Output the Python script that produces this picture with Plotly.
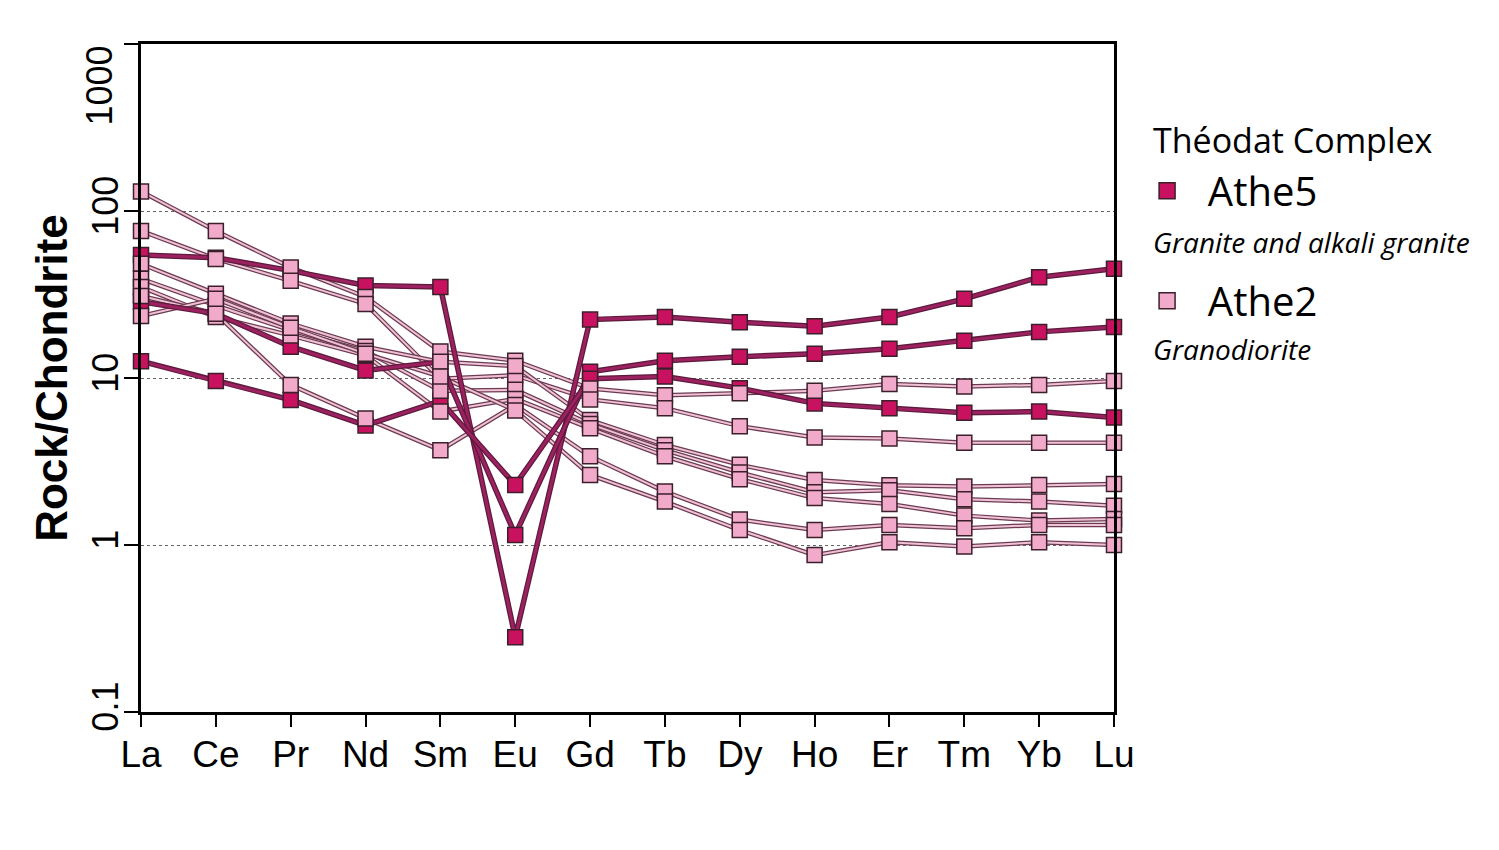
import plotly.graph_objects as go

# REE normalised to chondrite, Théodat Complex
elements = ["La", "Ce", "Pr", "Nd", "Sm", "Eu", "Gd", "Tb", "Dy", "Ho", "Er", "Tm", "Yb", "Lu"]

# Athe5 - granite and alkali granite
athe5_a = [54.6, 52.5, 44.0, 35.8, 35.1, 0.28, 22.4, 23.2, 21.6, 20.4, 23.2, 29.8, 40.2, 45.1]
athe5_b = [28.6, 24.3, 15.4, 11.1, 12.5, 1.15, 10.9, 12.7, 13.4, 14.0, 15.0, 16.7, 18.9, 20.2]
athe5_c = [12.6, 9.6, 7.4, 5.2, 7.3, 2.29, 9.9, 10.2, 8.7, 7.05, 6.6, 6.2, 6.3, 5.8]

# Athe2 - granodiorite
athe2_a = [131, 76, 46, 30.6, 14.4, 12.7, 8.65, 7.9, 8.1, 8.4, 9.2, 8.9, 9.1, 9.6]
athe2_b = [76, 51.7, 38.2, 27.8, 9.9, 10.4, 7.45, 6.6, 5.15, 4.4, 4.35, 4.1, 4.1, 4.1]
athe2_c = [48.3, 32, 21.2, 15.4, 12.5, 11.8, 5.6, 3.97, 3.02, 2.45, 2.28, 2.24, 2.29, 2.32]
athe2_d = [39.3, 27.2, 19.3, 14.5, 8.4, 8.5, 5.3, 3.7, 2.72, 2.07, 2.13, 1.88, 1.82, 1.72]
athe2_e = [35.1, 23.2, 18.0, 13.7, 6.3, 7.5, 5.0, 3.4, 2.48, 1.91, 1.76, 1.50, 1.40, 1.43]
athe2_f = [31.0, 24.3, 9.1, 5.73, 3.7, 6.9, 3.4, 2.09, 1.42, 1.23, 1.32, 1.26, 1.32, 1.32]
athe2_g = [23.5, 29.8, 20.0, 14.0, 10.2, 6.4, 2.63, 1.82, 1.23, 0.87, 1.04, 0.98, 1.04, 1.0]

athe5 = [athe5_a, athe5_b, athe5_c]
athe2 = [athe2_a, athe2_b, athe2_c, athe2_d, athe2_e, athe2_f, athe2_g]

y_ticks = [0.1, 1, 10, 100, 1000]
# top label is drawn separately (it hangs below its tick in the original)
y_ticklabels = ["0.1", "1", "10", "100", ""]

DARK_FILL = "#c8125f"
PINK_FILL = "#f2aacb"
EDGE = "#3b1f2b"
NBSP = "\u00a0"

fig = go.Figure()

# lines: dark edge underneath, coloured core on top
for s in athe2:
    fig.add_trace(go.Scatter(x=elements, y=s, mode="lines", line=dict(color="#6e3a52", width=4.5),
                             showlegend=False, hoverinfo="skip", cliponaxis=False))
    fig.add_trace(go.Scatter(x=elements, y=s, mode="lines", line=dict(color="#eec3d5", width=2),
                             showlegend=False, hoverinfo="skip", cliponaxis=False))
for s in athe5:
    fig.add_trace(go.Scatter(x=elements, y=s, mode="lines", line=dict(color="#5e1a3c", width=5.5),
                             showlegend=False, hoverinfo="skip", cliponaxis=False))
    fig.add_trace(go.Scatter(x=elements, y=s, mode="lines", line=dict(color="#9c2160", width=3),
                             showlegend=False, hoverinfo="skip", cliponaxis=False))

# markers
for s in athe5:
    fig.add_trace(go.Scatter(x=elements, y=s, mode="markers", showlegend=False, cliponaxis=False,
                             marker=dict(symbol="square", size=15, color=DARK_FILL,
                                         line=dict(color=EDGE, width=1.5))))
for s in athe2:
    fig.add_trace(go.Scatter(x=elements, y=s, mode="markers", showlegend=False, cliponaxis=False,
                             marker=dict(symbol="square", size=15, color=PINK_FILL,
                                         line=dict(color=EDGE, width=1.5))))

# legend entries
fig.add_trace(go.Scatter(x=[None], y=[None], mode="markers", name=NBSP * 2 + "Athe5", legendgroup="athe5",
                         marker=dict(symbol="square", size=17, color=DARK_FILL, line=dict(color=EDGE, width=1.5))))
fig.add_trace(go.Scatter(x=[None], y=[None], mode="markers", name=NBSP * 2 + "Athe2", legendgroup="athe2",
                         marker=dict(symbol="square", size=17, color=PINK_FILL, line=dict(color=EDGE, width=1.5))))

fig.update_xaxes(
    type="category", range=[0, 13], showline=True, mirror=True, linecolor="black", linewidth=3,
    ticks="outside", ticklen=12, tickwidth=2, tickcolor="black", showgrid=False, automargin=False,
    ticklabelstandoff=-4,
    tickfont=dict(family="Liberation Sans, Arial", size=37, color="black"),
)
fig.update_yaxes(
    type="log", range=[-1, 3.0005], showline=True, mirror=True, linecolor="black", linewidth=3,
    ticks="outside", ticklen=14, tickwidth=2, tickcolor="black", ticklabeloverflow="allow",
    ticklabelstandoff=-8, automargin=False,
    tickvals=y_ticks, ticktext=y_ticklabels,
    tickangle=-90, tickfont=dict(family="Liberation Sans, Arial", size=36, color="black"),
    showgrid=True, gridcolor="#666666", gridwidth=1, griddash="dot", zeroline=False,
    title=dict(text="<b>Rock/Chondrite</b>", standoff=4,
               font=dict(family="Liberation Sans, Arial", size=44, color="black")),
)

fig.add_annotation(text="1000", xref="paper", yref="y", x=-0.0195, y=3, textangle=-90,
                   xanchor="right", yanchor="top", showarrow=False,
                   font=dict(family="Liberation Sans, Arial", size=36, color="black"))

fig.add_annotation(text="Théodat Complex", xref="paper", yref="paper",
                   x=1.038, y=0.857, xanchor="left", yanchor="middle", showarrow=False,
                   font=dict(family="Open Sans", size=34, color="black"))
fig.add_annotation(text="<i>Granite and alkali granite</i>", xref="paper", yref="paper",
                   x=1.038, y=0.703, xanchor="left", yanchor="middle", showarrow=False,
                   font=dict(family="Open Sans", size=28, color="black"))
fig.add_annotation(text="<i>Granodiorite</i>", xref="paper", yref="paper",
                   x=1.038, y=0.543, xanchor="left", yanchor="middle", showarrow=False,
                   font=dict(family="Open Sans", size=28, color="black"))

fig.update_layout(
    width=1499, height=850,
    margin=dict(l=133, r=393, t=36, b=146),
    plot_bgcolor="white", paper_bgcolor="white",
    legend=dict(
        x=1.034, y=0.698, xanchor="left", yanchor="middle",
        font=dict(family="Open Sans", size=40, color="black"),
        tracegroupgap=55, itemsizing="trace", bgcolor="rgba(0,0,0,0)",
    ),
)

fig.write_html("out.html")
